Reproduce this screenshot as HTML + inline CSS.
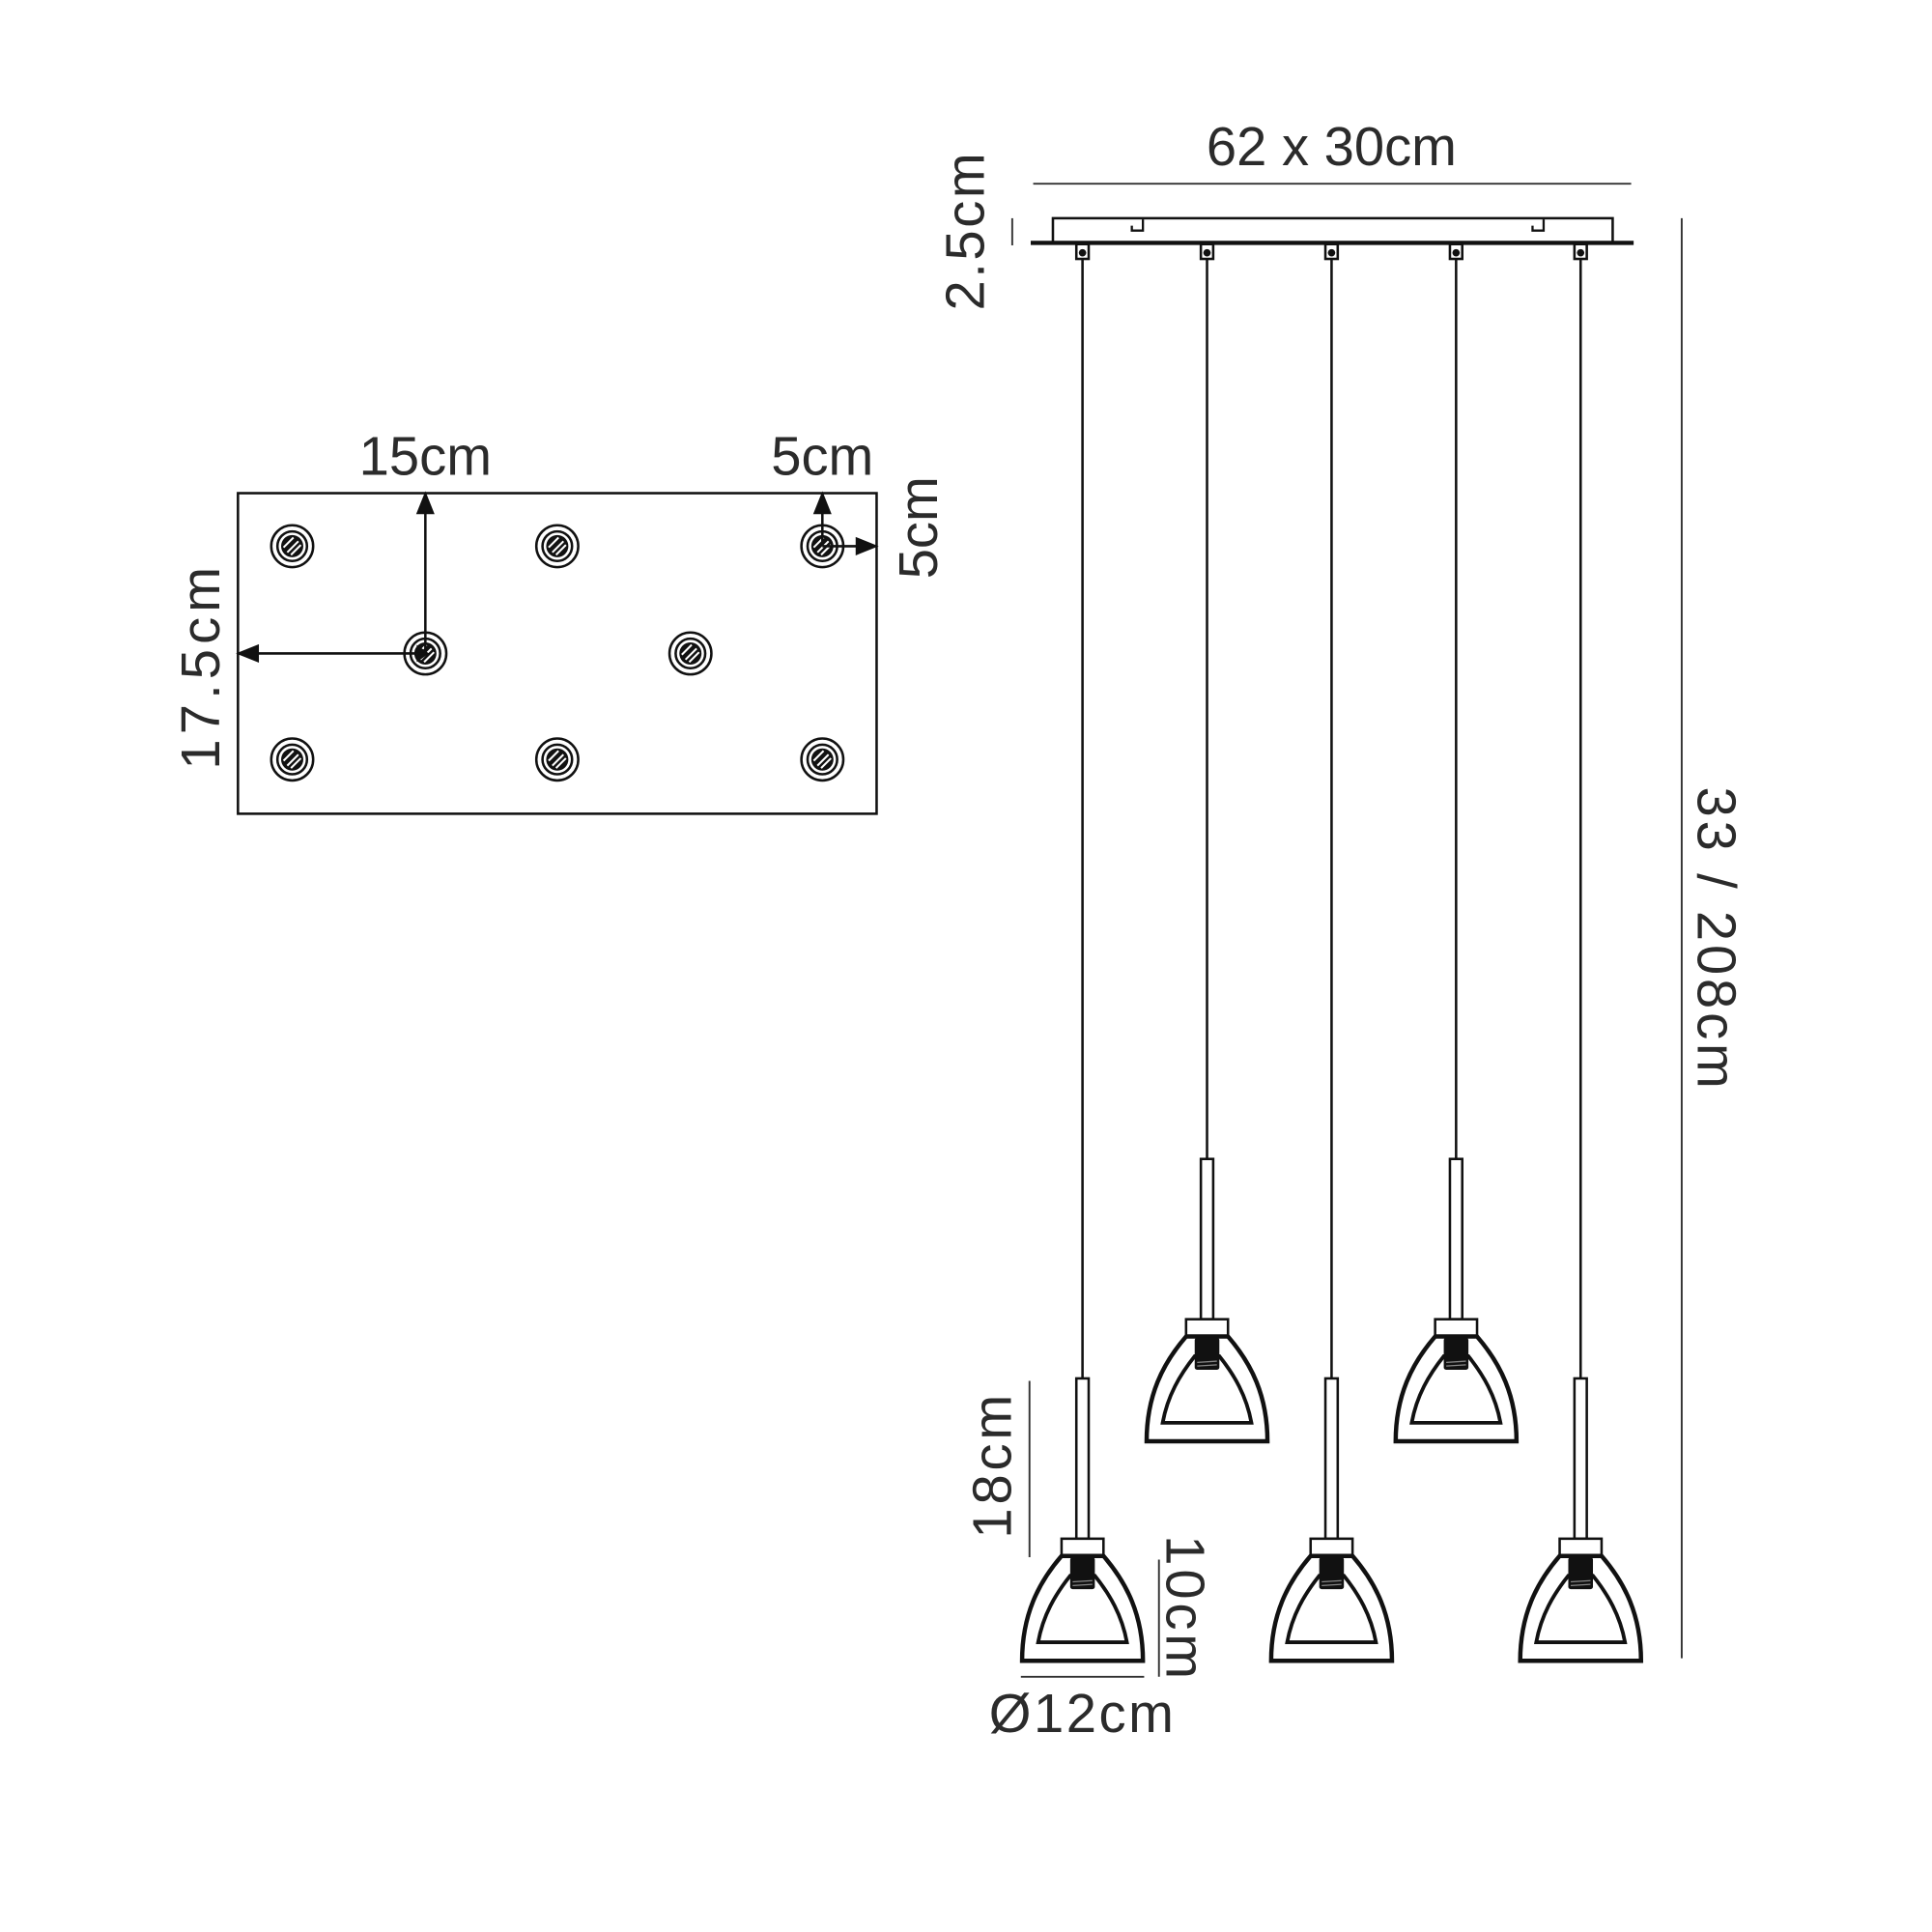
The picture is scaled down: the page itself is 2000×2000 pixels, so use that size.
<!DOCTYPE html>
<html><head><meta charset="utf-8"><style>
html,body{margin:0;padding:0;background:#fff;}
svg{display:block;}
text{font-family:"Liberation Sans",sans-serif;fill:#2b2b2b;font-size:44px;}
</style></head><body>
<svg width="2000" height="2000" viewBox="0 0 1567 1567" xmlns="http://www.w3.org/2000/svg">
<defs>
  <g id="screw">
    <circle r="17" fill="#fff" stroke="#111" stroke-width="2"/>
    <circle r="12" fill="#fff" stroke="#111" stroke-width="2"/>
    <circle r="9" fill="#111"/>
    <path d="M-4,5 L5,-4 M-1,7 L7,-1 M-7,1 L1,-7" stroke="#fff" stroke-width="1.6"/>
  </g>
  <g id="shade">
    <rect x="-5" y="-130" width="10" height="130" fill="#fff" stroke="#111" stroke-width="2"/>
    <rect x="-17" y="0" width="34" height="14" fill="#fff" stroke="#111" stroke-width="2"/>
    <path d="M-49,99 L49,99 C49,62 36,36 17,14 L-17,14 C-36,36 -49,62 -49,99 Z" fill="#fff" stroke="#111" stroke-width="3.5"/>
    <path d="M-36,84 L36,84 C32,62 22,45 10,30 L-10,30 C-22,45 -32,62 -36,84 Z" fill="#fff" stroke="#111" stroke-width="3"/>
    <rect x="-10" y="15" width="20" height="26" rx="2" fill="#111"/>
    <path d="M-8,35 L8,34 M-8,38 L8,37" stroke="#888" stroke-width="1"/>
  </g>
</defs>

<rect x="193" y="400" width="518" height="260" fill="#fff" stroke="#111" stroke-width="2"/>
<use href="#screw" x="237" y="443"/>
<use href="#screw" x="452" y="443"/>
<use href="#screw" x="667" y="443"/>
<use href="#screw" x="345" y="530"/>
<use href="#screw" x="560" y="530"/>
<use href="#screw" x="237" y="616"/>
<use href="#screw" x="452" y="616"/>
<use href="#screw" x="667" y="616"/>
<g stroke="#111" stroke-width="2" fill="#111">
  <line x1="345" y1="530" x2="345" y2="414"/>
  <path d="M345,401 L339,416 L351,416 Z"/>
  <path d="M338,523 L348,530 L338,537 Z" stroke="none"/>
  <line x1="345" y1="530" x2="207" y2="530"/>
  <path d="M194,530 L209,524 L209,536 Z"/>
  <line x1="667" y1="443" x2="667" y2="414"/>
  <path d="M667,401 L661,416 L673,416 Z"/>
  <line x1="667" y1="443" x2="697" y2="443"/>
  <path d="M710,443 L695,437 L695,449 Z"/>
</g>
<text x="345" y="385" text-anchor="middle">15cm</text>
<text x="667" y="385" text-anchor="middle">5cm</text>
<text transform="translate(760,428) rotate(-90)" text-anchor="middle">5cm</text>
<text transform="translate(178,540) rotate(-90)" text-anchor="middle" letter-spacing="4">17.5cm</text>

<text x="1080" y="134" text-anchor="middle">62 x 30cm</text>
<line x1="838" y1="149" x2="1323" y2="149" stroke="#333" stroke-width="1.5"/>
<rect x="854" y="177" width="454" height="20" fill="#fff" stroke="#111" stroke-width="2"/>
<line x1="836" y1="197" x2="1325" y2="197" stroke="#111" stroke-width="3.5"/>
<path d="M927,178 L927,187 L918,187 L918,183" fill="none" stroke="#111" stroke-width="1.8"/>
<path d="M1252,178 L1252,187 L1243,187 L1243,183" fill="none" stroke="#111" stroke-width="1.8"/>
<line x1="821" y1="177" x2="821" y2="199" stroke="#333" stroke-width="1.5"/>
<text transform="translate(798,187) rotate(-90)" text-anchor="middle" letter-spacing="2">2.5cm</text>
<g stroke="#111" stroke-width="2" fill="#fff">
  <rect x="873" y="198" width="10" height="12"/>
  <rect x="974" y="198" width="10" height="12"/>
  <rect x="1075" y="198" width="10" height="12"/>
  <rect x="1176" y="198" width="10" height="12"/>
  <rect x="1277" y="198" width="10" height="12"/>
</g>
<g fill="#111">
  <circle cx="878" cy="205" r="3"/><circle cx="979" cy="205" r="3"/><circle cx="1080" cy="205" r="3"/><circle cx="1181" cy="205" r="3"/><circle cx="1282" cy="205" r="3"/>
</g>
<g stroke="#111" stroke-width="2">
  <line x1="878" y1="210" x2="878" y2="1118"/>
  <line x1="979" y1="210" x2="979" y2="940"/>
  <line x1="1080" y1="210" x2="1080" y2="1118"/>
  <line x1="1181" y1="210" x2="1181" y2="940"/>
  <line x1="1282" y1="210" x2="1282" y2="1118"/>
</g>
<use href="#shade" x="878" y="1248"/>
<use href="#shade" x="979" y="1070"/>
<use href="#shade" x="1080" y="1248"/>
<use href="#shade" x="1181" y="1070"/>
<use href="#shade" x="1282" y="1248"/>

<line x1="1364" y1="177" x2="1364" y2="1345" stroke="#333" stroke-width="1.5"/>
<text transform="translate(1377,762) rotate(90)" text-anchor="middle" letter-spacing="3">33 / 208cm</text>

<line x1="835" y1="1120" x2="835" y2="1263" stroke="#333" stroke-width="1.5"/>
<text transform="translate(820,1188) rotate(-90)" text-anchor="middle" letter-spacing="3">18cm</text>
<line x1="940" y1="1265" x2="940" y2="1360" stroke="#333" stroke-width="1.5"/>
<text transform="translate(946,1305) rotate(90)" text-anchor="middle" letter-spacing="3">10cm</text>
<line x1="828" y1="1360" x2="928" y2="1360" stroke="#333" stroke-width="1.5"/>
<text x="878" y="1405" text-anchor="middle" letter-spacing="2">Ø12cm</text>
</svg>
</body></html>
